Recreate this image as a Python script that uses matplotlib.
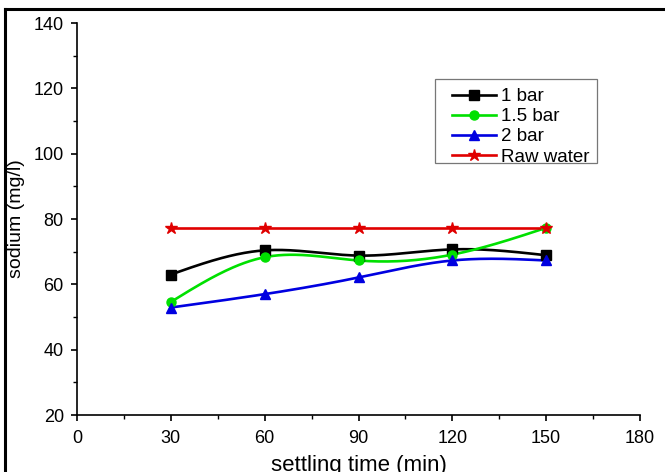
import numpy as np
import matplotlib
matplotlib.use("Agg")
from matplotlib import pyplot as plt
from matplotlib.lines import Line2D
from matplotlib.patches import Rectangle
from matplotlib.ticker import MultipleLocator

plt.rcParams['font.family'] = ['Liberation Sans', 'DejaVu Sans']

# settling time (min)
time = [30, 60, 90, 120, 150]
# sodium (mg/l)
bar1 = [63.0, 70.4, 68.8, 70.7, 68.9]
bar15 = [54.6, 68.3, 67.3, 69.1, 77.3]
bar2 = [52.9, 57.0, 62.1, 67.3, 67.3]
raw = [77.3, 77.3, 77.3, 77.3, 77.3]

labels = ['1 bar', '1.5 bar', '2 bar', 'Raw water']
colors = ['#000000', '#00e000', '#0000e0', '#e00000']
markers = ['s', 'o', '^', '*']


# 自然三次样条，只用来画平滑的连线
def spline(x, y, n=200):
    x = np.asarray(x, float)
    y = np.asarray(y, float)
    k = len(x)
    h = np.diff(x)
    A = np.zeros((k, k))
    b = np.zeros(k)
    A[0, 0] = 1
    A[-1, -1] = 1
    for i in range(1, k - 1):
        A[i, i - 1] = h[i - 1]
        A[i, i] = 2 * (h[i - 1] + h[i])
        A[i, i + 1] = h[i]
        b[i] = 6 * ((y[i + 1] - y[i]) / h[i] - (y[i] - y[i - 1]) / h[i - 1])
    m = np.linalg.solve(A, b)
    xs = np.linspace(x[0], x[-1], n)
    ys = np.empty_like(xs)
    for j, xv in enumerate(xs):
        i = min(np.searchsorted(x, xv, side='right') - 1, k - 2)
        t = xv - x[i]
        u = x[i + 1] - xv
        ys[j] = (m[i] * u ** 3 + m[i + 1] * t ** 3) / (6 * h[i]) \
            + (y[i] / h[i] - m[i] * h[i] / 6) * u \
            + (y[i + 1] / h[i] - m[i + 1] * h[i] / 6) * t
    return xs, ys


W, H = 665, 472
fig = plt.figure(figsize=(6.65, 4.72), dpi=100)
ax = fig.add_axes([77 / W, 57 / H, 563 / W, 392 / H])

handles = []
for data, lab, c, mk in zip([bar1, bar15, bar2, raw], labels, colors, markers):
    xs, ys = spline(time, data)
    ax.plot(xs, ys, color=c, lw=1.9, zorder=2)
    ms = 9 if mk == '*' else 6.5
    ax.plot(time, data, ls='none', marker=mk, color=c, ms=ms, zorder=3)
    handles.append(Line2D([], [], color=c, lw=1.9, marker=mk, ms=ms))

ax.set_xlim(0, 180)
ax.set_ylim(20, 140)
ax.xaxis.set_major_locator(MultipleLocator(30))
ax.xaxis.set_minor_locator(MultipleLocator(15))
ax.yaxis.set_major_locator(MultipleLocator(20))
ax.yaxis.set_minor_locator(MultipleLocator(10))
ax.spines['top'].set_visible(False)
ax.spines['right'].set_visible(False)
for s in ['left', 'bottom']:
    ax.spines[s].set_linewidth(1.2)
ax.tick_params(which='major', direction='out', length=4.5, width=1.2, labelsize=13)
ax.tick_params(axis='y', which='major', pad=5)
ax.tick_params(axis='x', which='major', pad=6)
ax.tick_params(which='minor', direction='out', length=3, width=1.0)

ax.set_xlabel('settling time (min)', fontsize=16, labelpad=6)
ax.set_ylabel('sodium (mg/l)', fontsize=14, labelpad=6)

# 图例（不带边框，边框另外画）
leg = fig.legend(handles, labels, loc='upper left', bbox_to_anchor=(452 / W, 1 - 88 / H),
                 fontsize=13.5, frameon=False, handlelength=2.35, handletextpad=0.25,
                 borderpad=0, labelspacing=0.16, numpoints=1, borderaxespad=0)
fig.add_artist(Rectangle((435 / W, 1 - 163 / H), 162 / W, 84 / H, transform=fig.transFigure,
                         fill=False, edgecolor='#777777', linewidth=0.9))

# 图片外框（左边和上边）
fig.add_artist(Line2D([5 / W, 5 / W], [0, 1 - 9 / H], color='black', lw=2.2, transform=fig.transFigure))
fig.add_artist(Line2D([5 / W, 1], [1 - 9 / H, 1 - 9 / H], color='black', lw=2.2, transform=fig.transFigure))

fig.savefig('out.png', dpi=100)
